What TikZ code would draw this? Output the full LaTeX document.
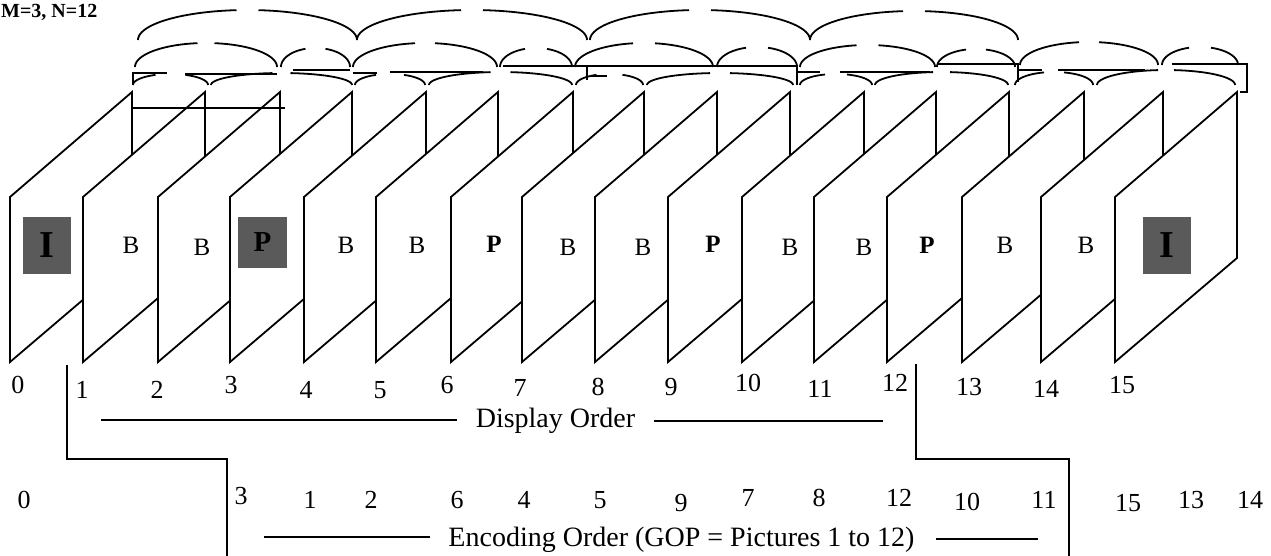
\documentclass[tikz,border=0pt]{standalone}
\usepackage{fontspec}
\setmainfont{Liberation Serif}
\definecolor{boxgray}{HTML}{5A5A5A}

% Reference arc drawn as two pieces of a half ellipse with a gap at its top:
% #1 left x, #2 right x, #3 y of the ends, #4 y of the top, #5 gap width
\newcommand\gaparc[5]{%
  \pgfmathsetmacro\gxm{(#1+#2)/2}%
  \pgfmathsetmacro\gra{(#2-#1)/2}%
  \pgfmathsetmacro\grb{#3-#4}%
  \pgfmathsetmacro\gang{acos(#5/(#2-#1))}%
  \draw[arcline] plot[domain=180:{180-\gang}, samples=40] ({\gxm+\gra*cos(\x)}, {#3-\grb*sin(\x)});
  \draw[arcline] plot[domain=0:{\gang}, samples=40] ({\gxm+\gra*cos(\x)}, {#3-\grb*sin(\x)});
}

\begin{document}
\begin{tikzpicture}[x=1pt, y=-1pt,
  edge/.style={line width=1.8pt, line join=miter},
  arcline/.style={line width=1.8pt},
  rule/.style={line width=1.8pt},
  btype/.style={font=\fontsize{25}{27}\selectfont, inner sep=0pt},
  ptype/.style={font=\fontsize{25}{27}\selectfont\bfseries, inner sep=0pt},
  boxtype/.style={fill=boxgray, inner sep=0pt},
  num/.style={font=\fontsize{26}{28}\selectfont, inner sep=0pt},
  order/.style={font=\fontsize{28}{30}\selectfont, inner sep=0pt, anchor=base},
]
\useasboundingbox (0,0) rectangle (1271,556);

% picture frames, each one in front of the one before
\foreach \i/\x in {0/10, 1/83, 2/158, 3/230, 4/304, 5/376, 6/451, 7/522,
                   8/595, 9/668, 10/742, 11/814, 12/887, 13/962, 14/1041, 15/1115}
  \draw[edge, fill=white] (\x,197) -- ++(122,-105) -- ++(0,166) -- (\x,362) -- cycle;

% picture types
\node[boxtype, minimum width=48pt, minimum height=57pt] (box0) at (47,245.5) {};
\node[font=\fontsize{38}{40}\selectfont\bfseries, inner sep=0pt] (t0) at (box0.center) {I};
\node[boxtype, minimum width=49pt, minimum height=51pt] (box3) at (262.5,242.5) {};
\node[font=\fontsize{29}{30}\selectfont\bfseries, inner sep=0pt] (t3) at (box3.center) {P};
\node[boxtype, minimum width=48pt, minimum height=57pt] (box15) at (1167,245.5) {};
\node[font=\fontsize{38}{40}\selectfont\bfseries, inner sep=0pt] (t15) at (box15.center) {I};
\foreach \i/\x/\y in {1/131/245, 2/202/247, 4/346/245, 5/417/245, 7/568/247,
                      8/643/247, 10/790/247, 11/864/247, 13/1005/245, 14/1086/245}
  \node[btype] (t\i) at (\x,\y) {B};
\foreach \i/\x/\y in {6/494/244, 9/713/244, 12/927/245}
  \node[ptype] (t\i) at (\x,\y) {P};

% prediction arcs, upper row
\gaparc{138}{357}{40}{10}{22}
\gaparc{357}{587}{40}{10}{22}
\gaparc{590}{810}{40}{10}{22}
\gaparc{810}{1018}{40}{11}{22}
% middle row
\gaparc{135}{277}{67}{43}{17}
\gaparc{281}{350}{67}{48}{20}
\gaparc{353}{497}{67}{43}{20}
\gaparc{500}{572}{67}{48}{22}
\gaparc{575}{713}{67}{43}{22}
\gaparc{717}{797}{67}{47}{22}
\gaparc{800}{935}{67}{45}{22}
\gaparc{937}{1015}{67}{49}{20}
\gaparc{1020}{1158}{65}{42}{20}
\gaparc{1162}{1238}{65}{47}{22}
% lower row
\gaparc{133}{208}{85}{74}{30}
\gaparc{211}{352}{85}{73}{18}
\gaparc{355}{425}{85}{74}{28}
\gaparc{429}{572}{85}{72}{20}
\gaparc{576}{643}{85}{74}{26}
\gaparc{647}{793}{85}{73}{20}
\gaparc{800}{872}{85}{74}{22}
\gaparc{875}{1008}{85}{72}{17}
\gaparc{1015}{1093}{85}{72}{20}
\gaparc{1097}{1235}{85}{70}{16}

% reference brackets between the arcs
\draw[rule] (133,85) -- (133,73) -- (167,73);
\draw[rule] (185,74) -- (277,74);
\draw[rule] (293,70) -- (350,70);
\draw[rule] (353,73) -- (377,73);
\draw[rule] (390,72) -- (483,72);
\draw[rule] (503,66) -- (797,66);
\draw[rule] (587,66) -- (587,80);
\draw[rule] (590,76) -- (607,76);
\draw[rule] (797,66) -- (797,85);
\draw[rule] (797,72) -- (820,72);
\draw[rule] (840,72) -- (930,72);
\draw[rule] (937,64) -- (1018,64) -- (1018,82);
\draw[rule] (1018,70) -- (1042,70);
\draw[rule] (1058,70) -- (1145,70);
\draw[rule] (1172,64) -- (1247,64) -- (1247,92) -- (1240,92);
\draw[rule] (133,108) -- (285,108);

% heading
\node[font=\fontsize{20}{22}\selectfont\bfseries, inner sep=0pt, anchor=base west] (head) at (1,18) {M=3, N=12};

% display order numbers
\foreach \t/\x/\y in {0/18/385, 1/82/390, 2/157/390, 3/231/385, 4/306/390, 5/380/390,
                      6/447/385, 7/520/388, 8/598/387, 9/671/387, 10/748/383, 11/820/389,
                      12/895/383, 13/969/387, 14/1046/389, 15/1122/385}
  \node[num] (d\t) at (\x,\y) {\t};
% encoding order numbers
\foreach \t/\x/\y in {0/24/500, 3/241/496, 1/310/500, 2/371/500, 6/457/500, 4/524/500,
                      5/600/500, 9/681/503, 7/748/498, 8/819/498, 12/899/498, 10/967/502,
                      11/1044/500, 15/1128/503, 13/1191/500, 14/1250/500}
  \node[num] (e\t) at (\x,\y) {\t};

% group boundaries
\draw[rule] (67,365) -- (67,459) -- (227,459) -- (227,556);
\draw[rule] (916,364) -- (916,459) -- (1069,459) -- (1069,556);

% order captions
\node[order] (disp) at (555.5,427) {Display Order};
\draw[rule] (101,420) -- (457,420);
\draw[rule] (654,421) -- (883,421);
\node[order] (enc) at (681.5,546) {Encoding Order (GOP = Pictures 1 to 12)};
\draw[rule] (264,537) -- (430,537);
\draw[rule] (936,539) -- (1038,539);
\end{tikzpicture}
\end{document}
